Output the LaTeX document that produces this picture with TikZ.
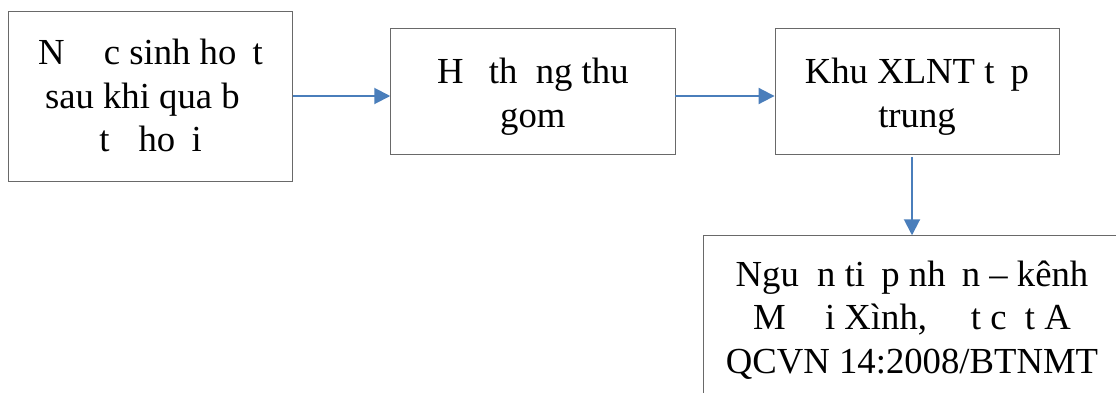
\documentclass[tikz,border=0pt]{standalone}
\usepackage{fontspec}
\setmainfont{Liberation Serif}
\usetikzlibrary{arrows.meta}
\definecolor{flowblue}{RGB}{74,126,187}
\definecolor{boxline}{RGB}{105,105,105}
\tikzset{
  stepbox/.style={draw=boxline, line width=0.9pt, fill=white, inner sep=0pt},
  boxtext/.style={align=center, inner sep=0pt, font=\fontsize{36.7}{43.5}\selectfont},
  flow/.style={draw=flowblue, line width=2pt, -{Triangle[length=16pt,width=16pt]}}
}
\begin{document}
\begin{tikzpicture}[x=1pt,y=1pt]
  \clip (0,0) rectangle (1116,-392);
  \fill[white] (0,0) rectangle (1116,-392);

  % process boxes
  \node[stepbox, minimum width=283.5pt, minimum height=170pt] (b1) at (150.5,-96) {};
  \node[stepbox, minimum width=284.3pt, minimum height=126pt] (b2) at (532.85,-91.3) {};
  \node[stepbox, minimum width=284pt, minimum height=126pt] (b3) at (917,-91.3) {};
  \node[stepbox, minimum width=426.7pt, minimum height=174.3pt] (b4) at (916.65,-322.85) {};

  % box captions
  \node[boxtext] (t1) at (150.5,-95.5)
    {N\hphantom{ướ}c sinh ho\hphantom{ạ}t\\sau khi qua b\hphantom{ể}\\t\hphantom{ự} ho\hphantom{ạ}i};
  \node[boxtext] (t2) at (532.85,-96.5)
    {H\hphantom{ệ} th\hphantom{ố}ng thu\\gom};
  \node[boxtext] (t3) at (917,-96.5)
    {Khu XLNT t\hphantom{ậ}p\\trung};
  \node[boxtext] (t4) at (912,-320)
    {Ngu\hphantom{ồ}n ti\hphantom{ế}p nh\hphantom{ậ}n – kênh\\M\hphantom{ườ}i Xình, \hphantom{đạ}t c\hphantom{ộ}t A\\QCVN 14:2008/BTNMT};

  % flow arrows
  \coordinate (row) at (b1.east);
  \draw[flow] (row) -- (row -| b2.west);
  \draw[flow] (row -| b2.east) -- (row -| b3.west);
  \draw[flow] ([yshift=-2pt]b3.south -| t4.north) -- (b4.north -| t4.north);
\end{tikzpicture}
\end{document}
